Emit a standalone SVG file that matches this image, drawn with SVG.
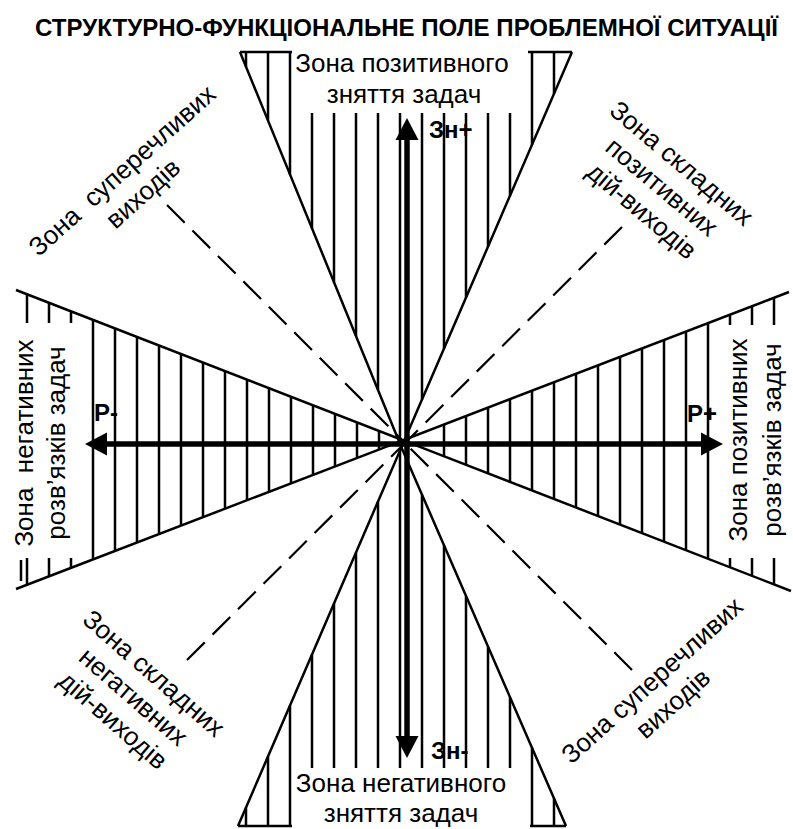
<svg xmlns="http://www.w3.org/2000/svg" width="793" height="829" viewBox="0 0 793 829">
<style>
.ln{stroke:#000;stroke-width:2.5;fill:none}
.ds{stroke:#000;stroke-width:2.2;stroke-dasharray:25 11;fill:none}
.ax{stroke:#000;stroke-width:5.5;fill:none}
.t{font-family:"Liberation Sans",Arial,sans-serif;font-size:26px;fill:#000}
.b{font-family:"Liberation Sans",Arial,sans-serif;font-weight:bold;fill:#000}
</style>
<defs>
<marker id="ah" markerUnits="userSpaceOnUse" markerWidth="22" markerHeight="23" refX="0" refY="11.5" orient="auto" overflow="visible">
<path d="M0,0 L22,11.5 L0,23 Z" fill="#000"/>
</marker>
</defs>
<rect width="793" height="829" fill="#fff"/>
<g id="title">
<text class="b" x="35" y="36" font-size="24" textLength="743" lengthAdjust="spacingAndGlyphs">СТРУКТУРНО-ФУНКЦІОНАЛЬНЕ ПОЛЕ ПРОБЛЕМНОЇ СИТУАЦІЇ</text>
</g>
<g id="zone-top">
<path class="ln" d="M240,52 H292 M528,52 H572 M240,52 L401.4,447.3 L572,52"/>
<path class="ln" d="M246,52V66.7 M268,52V120.6 M290,52V174.5 M312,113V228.4 M334,113V282.2 M356,113V336.1 M378,113V390 M400,113V443.9 M422,113V399.6 M444,113V348.6 M466,113V297.6 M488,113V246.7 M510,113V195.7 M532,52V144.7 M554,52V93.7"/>
<text class="t" text-anchor="middle"><tspan x="402" y="72">Зона позитивного</tspan><tspan x="404" y="103">зняття задач</tspan></text>
</g>
<g id="zone-bottom">
<path class="ln" d="M238,826 H292 M530,826 H566 M238,826 L401.4,447.3 L566,826"/>
<path class="ln" d="M246,807.5V826 M268,756.5V826 M290,705.5V826 M312,654.5V768 M334,603.5V768 M356,552.6V768 M378,501.6V768 M400,450.6V768 M422,494.7V768 M444,545.3V768 M466,595.9V768 M488,646.5V768 M510,697.2V768 M532,747.8V826 M554,798.4V826"/>
<text class="t" text-anchor="middle"><tspan x="401" y="792">Зона негативного</tspan><tspan x="401" y="822">зняття задач</tspan></text>
</g>
<g id="zone-left">
<path class="ln" d="M16,290 L403,440.3 L16,589"/>
<path class="ln" d="M27,294.3V323 M27,558V584.8 M21,560V581 M49,302.8V323 M49,558V576.3 M71,311.4V323 M71,558V567.9 M93,319.9V559.4 M115,328.5V551 M137,337V542.5 M159,345.5V534.1 M181,354.1V525.6 M203,362.6V517.2 M225,371.2V508.7 M247,379.7V500.3 M269,388.3V491.8 M291,396.8V483.3 M313,405.4V474.9 M335,413.9V466.4 M357,422.4V458 M379,431V449.5"/>
<text class="t" text-anchor="middle" transform="translate(33,443) rotate(-90)" xml:space="preserve"><tspan x="0" y="0">Зона  негативних</tspan><tspan x="0" y="32">розв’язків задач</tspan></text>
</g>
<g id="zone-right">
<path class="ln" d="M789,292 L403,440.3 L791,591"/>
<path class="ln" d="M444,424.6V456.2 M466,416.1V464.8 M488,407.7V473.3 M510,399.2V481.9 M532,390.8V490.4 M554,382.3V499 M576,373.9V507.5 M598,365.4V516.1 M620,357V524.6 M642,348.5V533.1 M664,340V541.7 M686,331.6V550.2 M708,323.1V558.8 M730,314.7V325 M730,558V567.3 M752,306.2V325 M752,558V575.9 M774,297.8V325 M774,558V584.4"/>
<text class="t" text-anchor="middle" transform="translate(747,440) rotate(-90)"><tspan x="0" y="0">Зона позитивних</tspan><tspan x="0" y="34">розв’язків задач</tspan></text>
</g>
<g id="zone-top-left">
<text class="t" text-anchor="middle" transform="translate(128,177) rotate(-42)" xml:space="preserve"><tspan x="0" y="0">Зона  суперечливих</tspan><tspan x="0" y="31">виходів</tspan></text>
</g>
<g id="zone-top-right">
<text class="t" text-anchor="middle" transform="translate(676,170) rotate(40)"><tspan x="0" y="0">Зона складних</tspan><tspan x="0" y="31">позитивних</tspan><tspan x="0" y="62">дій-виходів</tspan></text>
</g>
<g id="zone-bottom-left">
<text class="t" text-anchor="middle" transform="translate(148,680) rotate(41)"><tspan x="0" y="0">Зона складних</tspan><tspan x="0" y="31">негативних</tspan><tspan x="0" y="62">дій-виходів</tspan></text>
</g>
<g id="zone-bottom-right">
<text class="t" text-anchor="middle" transform="translate(658,687) rotate(-42)"><tspan x="0" y="0">Зона суперечливих</tspan><tspan x="0" y="31">виходів</tspan></text>
</g>
<g id="connectors">
<path class="ds" d="M167,205 L405,443"/>
<path class="ds" d="M622,227 L405,443"/>
<path class="ds" d="M187,660 L405,443"/>
<path class="ds" d="M632,670 L405,443"/>
<line class="ax" x1="407" y1="444" x2="407" y2="140" marker-end="url(#ah)"/>
<line class="ax" x1="407" y1="444" x2="407" y2="736" marker-end="url(#ah)"/>
<line class="ax" x1="407" y1="444" x2="107" y2="444" marker-end="url(#ah)"/>
<line class="ax" x1="407" y1="444" x2="701" y2="444" marker-end="url(#ah)"/>
<text class="b" font-size="24" x="429" y="138">Зн+</text>
<text class="b" font-size="24" x="431" y="759">Зн-</text>
<text class="b" font-size="24" x="94" y="421">Р-</text>
<text class="b" font-size="24" x="687" y="422">Р+</text>
</g>
</svg>
